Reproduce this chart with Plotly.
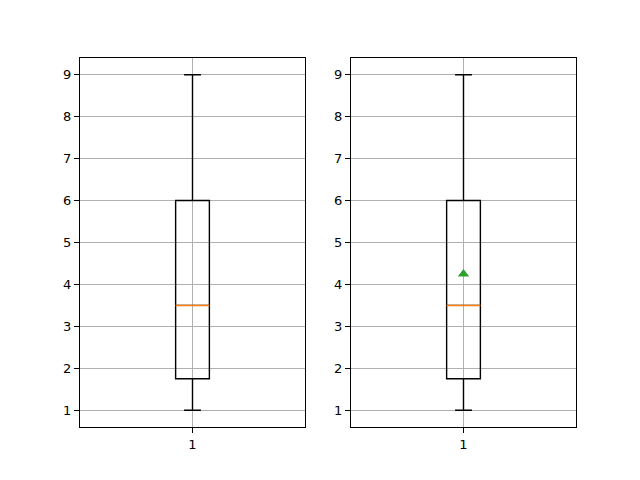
import numpy as np
import plotly.graph_objects as go

data = [1, 2, 5, 9]
positions = [1]
xticklabels = ["1"]
yticks = [1, 2, 3, 4, 5, 6, 7, 8, 9]

arr = np.array(data, dtype=float)
q1, med, q3 = np.percentile(arr, [25, 50, 75])
iqr = q3 - q1
lo = arr[arr >= q1 - 1.5 * iqr].min()
hi = arr[arr <= q3 + 1.5 * iqr].max()
mean = arr.mean()

box_w = 0.15
fig = go.Figure()
for i, show_mean in enumerate([False, True]):
    xa = "x" if i == 0 else "x2"
    ya = "y" if i == 0 else "y2"
    fig.add_trace(go.Box(
        x=positions, q1=[q1], median=[med], q3=[q3], lowerfence=[lo], upperfence=[hi],
        width=box_w, whiskerwidth=0.5, line=dict(color="black", width=1.4),
        fillcolor="rgba(0,0,0,0)", boxpoints=False, xaxis=xa, yaxis=ya,
        showlegend=False, hoverinfo="skip"))
    fig.add_trace(go.Scatter(
        x=[positions[0] - box_w / 2, positions[0] + box_w / 2], y=[med, med],
        mode="lines", line=dict(color="#ff7f0e", width=1.5), xaxis=xa, yaxis=ya,
        showlegend=False, hoverinfo="skip"))
    if show_mean:
        fig.add_trace(go.Scatter(
            x=positions, y=[mean], mode="markers",
            marker=dict(symbol="triangle-up", color="#2ca02c", size=10),
            xaxis=xa, yaxis=ya, showlegend=False, hoverinfo="skip"))

ax_common = dict(showline=True, mirror=True, linecolor="black", linewidth=1,
                 ticks="outside", ticklen=5, tickcolor="black", tickwidth=1,
                 showgrid=True, gridcolor="#b0b0b0", gridwidth=1, zeroline=False,
                 tickfont=dict(family="DejaVu Sans", size=13, color="black"))
x_common = dict(ax_common, range=[0.5, 1.5], tickvals=positions, ticktext=xticklabels)
y_common = dict(ax_common, range=[0.6, 9.4], tickvals=yticks)

fig.update_layout(
    width=640, height=480, paper_bgcolor="white", plot_bgcolor="white",
    margin=dict(l=72, r=72, t=50, b=61),
    xaxis=dict(x_common, domain=[0, 225 / 496], anchor="y"),
    xaxis2=dict(x_common, domain=[271 / 496, 1], anchor="y2"),
    yaxis=dict(y_common, anchor="x"),
    yaxis2=dict(y_common, anchor="x2"),
)
fig.write_html("out.html")
